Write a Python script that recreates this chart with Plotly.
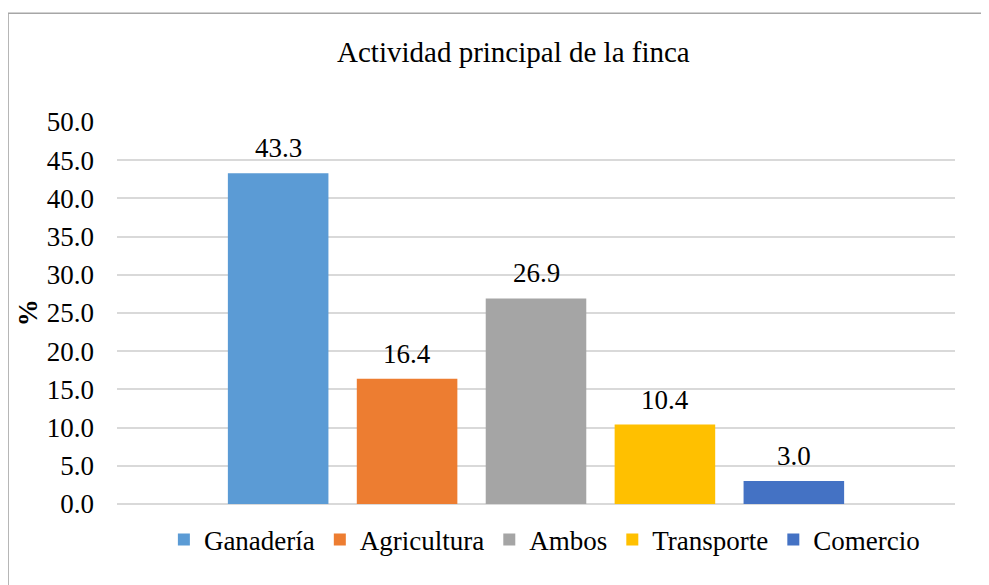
import plotly.graph_objects as go

categorias = ["Ganadería", "Agricultura", "Ambos", "Transporte", "Comercio"]
porcentajes = [43.3, 16.4, 26.9, 10.4, 3.0]
colores = ["#5B9BD5", "#ED7D31", "#A5A5A5", "#FFC000", "#4472C4"]

fuente = "Liberation Serif"

fig = go.Figure()
for nombre, valor, color in zip(categorias, porcentajes, colores):
    fig.add_trace(go.Bar(
        x=[nombre], y=[valor], name=nombre, width=0.78,
        marker=dict(color=color, line=dict(width=0)),
    ))

# etiquetas de datos encima de cada barra
etiquetas = [dict(x=c, y=v, text=f"{v:.1f}", xref="x", yref="y",
                  yanchor="bottom", yshift=8, showarrow=False,
                  font=dict(size=27, family=fuente, color="#000000"))
             for c, v in zip(categorias, porcentajes)]

fig.update_layout(
    width=989, height=585,
    margin=dict(l=109, r=42, t=114, b=89),
    paper_bgcolor="white", plot_bgcolor="white",
    font=dict(family=fuente, size=27, color="#000000"),
    barmode="overlay",
    title=dict(text="Actividad principal de la finca", x=0.511, xref="container",
               xanchor="center", y=0.925, yanchor="middle",
               font=dict(size=29, family=fuente)),
    showlegend=True,
    legend=dict(orientation="h", x=0.51, xanchor="center", y=-0.094,
                yanchor="middle", font=dict(size=27, family=fuente),
                itemwidth=30, tracegroupgap=0),
    shapes=[dict(type="rect", xref="paper", yref="paper",
                 x0=-0.13, x1=1.2, y0=-0.4, y1=1.285,
                 line=dict(color="#A6A6A6", width=1.5), layer="below")],
    annotations=etiquetas + [dict(text="<b>%</b>", xref="paper", yref="paper",
                      x=-0.106, y=0.5, xanchor="center", yanchor="middle",
                      textangle=-90, showarrow=False,
                      font=dict(size=27, family=fuente))],
)

fig.update_xaxes(showticklabels=False, showgrid=False, zeroline=False,
                 showline=False, range=[-1.25, 5.25])
fig.update_yaxes(range=[0, 50], dtick=5, tickformat=".1f",
                 showgrid=True, gridcolor="#D9D9D9", gridwidth=1.5,
                 zeroline=True, zerolinecolor="#D9D9D9", zerolinewidth=1.5,
                 showline=False, ticks="", ticklabelstandoff=22,
                 tickfont=dict(size=27, family=fuente))

fig.write_html("out.html")
